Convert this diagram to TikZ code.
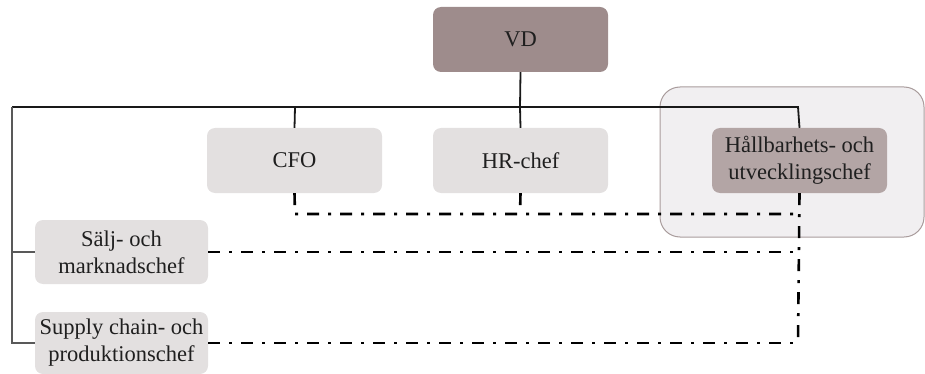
\documentclass[tikz,border=0pt]{standalone}
\usepackage{fontspec}
\setmainfont{Liberation Serif}
\begin{document}
\begin{tikzpicture}[x=1pt,y=-1pt,
  box/.style={rounded corners=8pt, inner sep=0pt, align=center, text=black!88,
    font=\fontsize{22.5}{27}\selectfont, minimum width=175pt, minimum height=65pt},
  lightbox/.style={box, fill=boxgrey},
  darkbox/.style={box, fill=boxmauve},
  solidlink/.style={line width=1.8pt, black!90},
  sidelink/.style={line width=1.8pt, black!65},
  dotlink/.style={line width=2.6pt, dash pattern=on 12pt off 9pt on 3pt off 9pt}]
\definecolor{boxgrey}{HTML}{E3E0E0}
\definecolor{boxmauve}{HTML}{B3A5A5}
\definecolor{topmauve}{HTML}{9E8C8C}
\definecolor{groupfill}{HTML}{F1EFF1}
\definecolor{groupline}{HTML}{A99C9C}
\useasboundingbox (0,0) rectangle (925,374);

% highlighted group around the sustainability role
\draw[groupline, fill=groupfill, line width=1pt, rounded corners=20pt] (660,87) rectangle (924,237);

% boxes
\node[box, fill=topmauve] (vd) at (520.5,39.5) {VD};
\node[lightbox] (cfo) at (294.5,160.5) {CFO};
\node[lightbox] (hr) at (520.5,160.5) {HR-chef};
\node[darkbox] (hu) at (799.5,160.5) {Hållbarhets- och\\utvecklingschef};
\node[lightbox, minimum width=173pt, minimum height=64pt] (salj) at (121.5,252) {Sälj- och\\marknadschef};
\node[lightbox, minimum width=173pt, minimum height=62pt] (supply) at (121.5,343) {Supply chain- och\\produktionschef};

% bus coordinates
\coordinate (busL) at (12,107);
\coordinate (busV) at (520,107);
\coordinate (busC) at (295,107);
\coordinate (busR) at (798,107);
\coordinate (sideS) at (12,252);
\coordinate (sideP) at (12,343);
\coordinate (dotC) at (295,214);
\coordinate (dotH) at (520,214);
\coordinate (dotR) at (798,214);
\coordinate (dotS) at (798,252);
\coordinate (dotP) at (798,343);

% reporting lines
\draw[solidlink] (vd.south) -- (busV);
\draw[solidlink] (busL) -- (busR) -- (hu.north);
\draw[solidlink] (busC) -- (cfo.north);
\draw[solidlink] (busV) -- (hr.north);
\draw[sidelink] (busL) -- (sideP) -- (supply.west);
\draw[sidelink] (sideS) -- (salj.west);

% dotted coordination lines
\draw[dotlink] (cfo.south) -- (dotC) -- (dotR);
\draw[dotlink] (hr.south) -- (dotH);
\draw[dotlink] (hu.south) -- (dotP);
\draw[dotlink] (salj.east) -- (dotS);
\draw[dotlink] (supply.east) -- (dotP);
\end{tikzpicture}
\end{document}
